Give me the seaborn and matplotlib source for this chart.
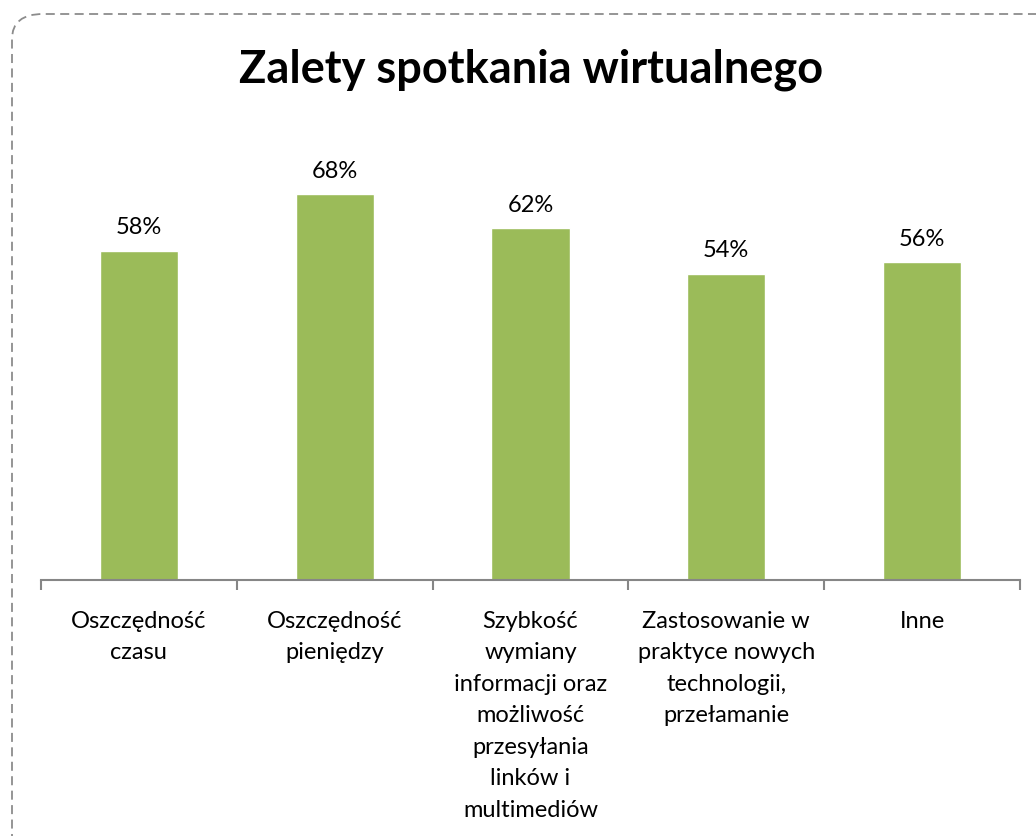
import matplotlib
matplotlib.use("Agg")
import matplotlib.pyplot as plt
import seaborn as sns
from matplotlib.patches import FancyBboxPatch
from matplotlib.ticker import FixedLocator

# data
categories = [
    "Oszczędność\nczasu",
    "Oszczędność\npieniędzy",
    "Szybkość\nwymiany\ninformacji oraz\nmożliwość\nprzesyłania\nlinków i\nmultimediów",
    "Zastosowanie w\npraktyce nowych\ntechnologii,\nprzełamanie",
    "Inne",
]
values = [0.58, 0.68, 0.62, 0.54, 0.56]
value_labels = ["58%", "68%", "62%", "54%", "56%"]

sns.set_style("white")
plt.rcParams["font.family"] = ["Lato", "DejaVu Sans"]
plt.rcParams["text.color"] = "black"

fig = plt.figure(figsize=(10.36, 8.36), dpi=100)
ax = fig.add_axes([41 / 1036, 1 - 580 / 836, (1020 - 41) / 1036, (580 - 126) / 836])

sns.barplot(x=categories, y=values, color="#9BBB59", width=0.4, saturation=1, ax=ax)

for i, (v, lab) in enumerate(zip(values, value_labels)):
    ax.annotate(lab, (i, v), xytext=(0, 9), textcoords="offset points",
                ha="center", va="bottom", fontsize=17, color="black")

ax.set_xlim(-0.5, len(categories) - 0.5)
ax.set_ylim(0, 0.8)
ax.set_yticks([])
for s in ["top", "right", "left"]:
    ax.spines[s].set_visible(False)
ax.spines["bottom"].set_color("#868686")
ax.spines["bottom"].set_linewidth(1.5)

ax.xaxis.set_minor_locator(FixedLocator([i - 0.5 for i in range(len(categories) + 1)]))
ax.tick_params(axis="x", which="major", length=0, pad=22, labelsize=17, labelcolor="black")
ax.tick_params(axis="x", which="minor", length=7, width=1.5, color="#868686", bottom=True)
for t in ax.get_xticklabels():
    t.set_linespacing(1.62)

fig.suptitle("Zalety spotkania wirtualnego", x=0.513, y=0.916, fontsize=32.5,
             fontweight="bold", va="center", color="black")

border = FancyBboxPatch((12 / 1036, -0.05), 1.1, 1.05 - 14 / 836,
                        boxstyle="round,pad=0,rounding_size=0.03",
                        transform=fig.transFigure, fill=False,
                        edgecolor="#8c8c8c", linewidth=1.3, linestyle=(0, (5, 3)))
fig.patches.append(border)

fig.savefig("out.png", dpi=100)
